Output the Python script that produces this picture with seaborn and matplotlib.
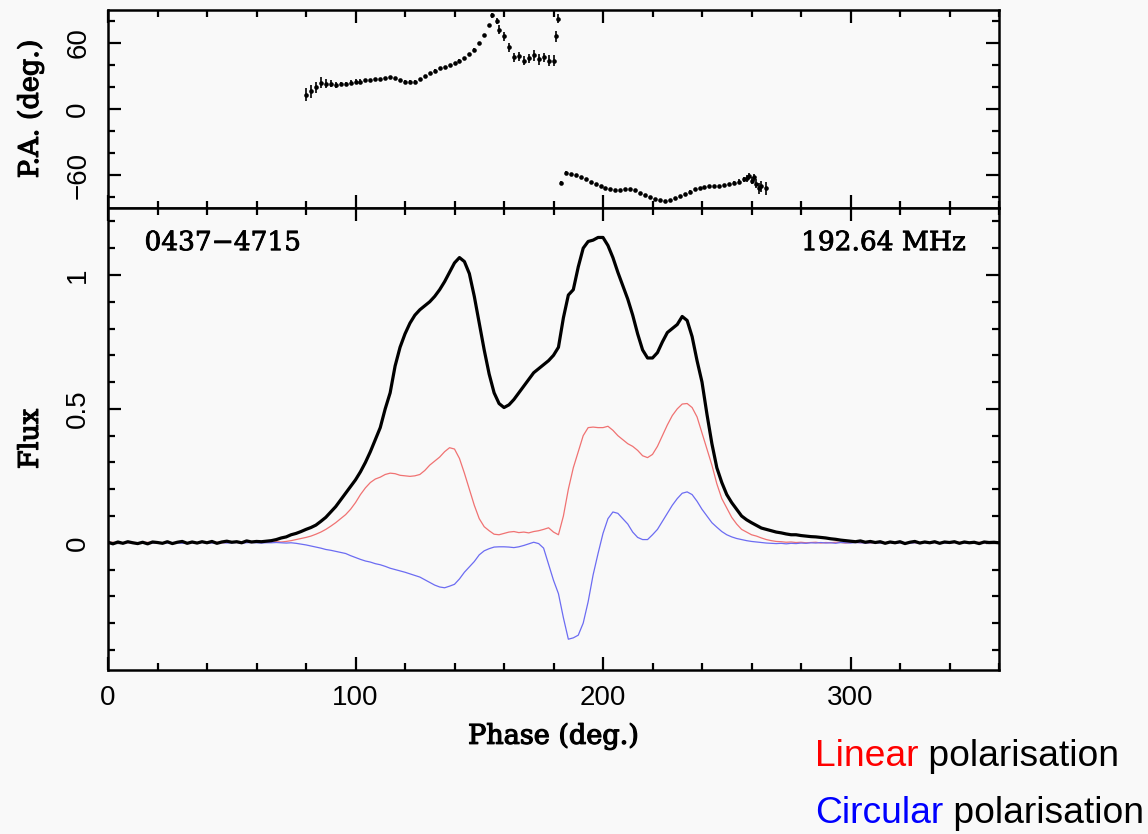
import numpy as np
import pandas as pd
import matplotlib
matplotlib.use("Agg")
import matplotlib.pyplot as plt
import matplotlib.patheffects as pe
import seaborn as sns
from matplotlib.ticker import MultipleLocator

# ---------------- data ----------------
phase = np.arange(0, 361, 2)

total_I = [
    0.002, -0.004, 0.003, -0.002, 0.004, 0.000, -0.003, 0.002, -0.004, 0.003,   # 0-18
    0.001, -0.002, 0.004, -0.003, 0.002, 0.005, -0.002, 0.003, -0.001, 0.004,   # 20-38
    0.000, 0.005, -0.002, 0.003, 0.006, 0.002, 0.004, 0.000, 0.007, 0.003,      # 40-58
    0.005, 0.004, 0.006, 0.008, 0.012, 0.018, 0.022, 0.030, 0.035, 0.042,      # 60-78
    0.050, 0.057, 0.066, 0.080, 0.095, 0.115, 0.135, 0.160, 0.185, 0.210,      # 80-98
    0.235, 0.265, 0.300, 0.340, 0.385, 0.430, 0.500, 0.560, 0.660, 0.730,      # 100-118
    0.780, 0.820, 0.850, 0.870, 0.885, 0.900, 0.920, 0.945, 0.975, 1.010,      # 120-138
    1.045, 1.065, 1.050, 1.005, 0.920, 0.820, 0.720, 0.630, 0.560, 0.520,      # 140-158
    0.505, 0.515, 0.535, 0.560, 0.585, 0.610, 0.635, 0.650, 0.665, 0.680,      # 160-178
    0.700, 0.730, 0.840, 0.925, 0.945, 1.030, 1.100, 1.125, 1.130, 1.140,      # 180-198
    1.140, 1.110, 1.065, 1.010, 0.960, 0.910, 0.850, 0.780, 0.720, 0.690,      # 200-218
    0.690, 0.710, 0.750, 0.785, 0.800, 0.815, 0.845, 0.830, 0.770, 0.680,      # 220-238
    0.600, 0.480, 0.370, 0.280, 0.225, 0.180, 0.150, 0.125, 0.100, 0.086,      # 240-258
    0.075, 0.065, 0.055, 0.050, 0.045, 0.040, 0.037, 0.033, 0.030, 0.030,      # 260-278
    0.027, 0.025, 0.023, 0.022, 0.020, 0.018, 0.015, 0.013, 0.010, 0.008,      # 280-298
    0.006, 0.004, 0.007, 0.002, 0.005, 0.001, 0.004, -0.002, 0.003, 0.000,     # 300-318
    0.004, -0.003, 0.002, 0.005, -0.001, 0.003, 0.000, 0.004, -0.002, 0.003,   # 320-338
    0.001, 0.004, -0.002, 0.003, 0.000, 0.002, -0.003, 0.003, 0.001, 0.002,    # 340-358
    0.000,                                                                      # 360
]

linear_L = [
    0.000, 0.002, -0.001, 0.001, 0.000, 0.002, -0.001, 0.001, 0.002, 0.000,
    0.001, -0.001, 0.002, 0.000, 0.001, 0.002, 0.000, 0.001, -0.001, 0.002,
    0.000, 0.001, 0.002, 0.000, 0.001, 0.002, 0.001, 0.000, 0.002, 0.001,
    0.002, 0.001, 0.003, 0.002, 0.004, 0.003, 0.005, 0.008, 0.012, 0.016,
    0.020, 0.025, 0.032, 0.040, 0.050, 0.062, 0.075, 0.090, 0.105, 0.125,
    0.150, 0.180, 0.205, 0.225, 0.238, 0.245, 0.255, 0.260, 0.258, 0.252,
    0.250, 0.248, 0.250, 0.255, 0.270, 0.290, 0.305, 0.320, 0.340, 0.355,
    0.350, 0.315, 0.260, 0.200, 0.140, 0.090, 0.060, 0.045, 0.032, 0.030,
    0.035, 0.040, 0.042, 0.038, 0.040, 0.037, 0.042, 0.045, 0.050, 0.056,
    0.040, 0.030, 0.100, 0.200, 0.280, 0.340, 0.400, 0.430, 0.432, 0.430,
    0.430, 0.435, 0.420, 0.400, 0.385, 0.370, 0.360, 0.345, 0.325, 0.318,
    0.330, 0.360, 0.400, 0.440, 0.475, 0.500, 0.518, 0.520, 0.505, 0.470,
    0.410, 0.350, 0.290, 0.220, 0.165, 0.130, 0.095, 0.070, 0.050, 0.040,
    0.030, 0.025, 0.018, 0.012, 0.008, 0.005, 0.004, 0.002, 0.003, 0.001,
    0.002, 0.000, 0.001, 0.002, -0.001, 0.001, 0.000, 0.002, 0.001, -0.001,
    0.001, 0.002, 0.000, 0.001, -0.001, 0.002, 0.000, 0.001, 0.002, 0.000,
    0.001, -0.001, 0.002, 0.000, 0.001, 0.002, 0.000, 0.001, -0.001, 0.001,
    0.000, 0.001, 0.002, 0.000, 0.001, -0.001, 0.002, 0.000, 0.001, 0.000,
    0.000,
]

circular_V = [
    0.000, -0.002, 0.001, -0.001, 0.001, 0.000, -0.002, 0.001, 0.000, -0.001,
    0.001, 0.000, -0.001, 0.001, 0.000, -0.002, 0.001, 0.000, -0.001, 0.001,
    0.000, -0.001, 0.000, 0.001, -0.001, 0.000, 0.001, -0.001, 0.000, 0.001,
    0.000, -0.001, 0.000, 0.000, 0.001, 0.000, -0.001, 0.000, -0.002, -0.005,
    -0.008, -0.012, -0.016, -0.020, -0.025, -0.028, -0.032, -0.036, -0.040, -0.048,
    -0.055, -0.062, -0.068, -0.072, -0.078, -0.082, -0.088, -0.095, -0.100, -0.105,
    -0.110, -0.116, -0.122, -0.128, -0.138, -0.148, -0.158, -0.165, -0.168, -0.162,
    -0.155, -0.135, -0.110, -0.090, -0.070, -0.045, -0.030, -0.022, -0.016, -0.015,
    -0.015, -0.016, -0.018, -0.015, -0.010, -0.004, 0.002, -0.003, -0.020, -0.080,
    -0.140, -0.190, -0.280, -0.360, -0.355, -0.345, -0.300, -0.220, -0.120, -0.040,
    0.035, 0.090, 0.115, 0.110, 0.090, 0.070, 0.040, 0.020, 0.012, 0.012,
    0.030, 0.050, 0.080, 0.110, 0.140, 0.165, 0.185, 0.190, 0.180, 0.155,
    0.125, 0.100, 0.075, 0.058, 0.042, 0.030, 0.022, 0.016, 0.012, 0.008,
    0.005, 0.003, 0.001, -0.001, -0.002, -0.003, -0.002, -0.004, -0.002, -0.003,
    -0.001, -0.002, 0.000, -0.001, 0.001, -0.001, 0.000, -0.002, 0.001, 0.000,
    -0.001, 0.001, 0.000, -0.001, 0.000, 0.001, -0.001, 0.000, 0.001, -0.001,
    0.000, 0.001, -0.001, 0.000, 0.001, 0.000, -0.001, 0.001, 0.000, -0.001,
    0.000, 0.001, 0.000, -0.001, 0.001, 0.000, -0.001, 0.000, 0.001, 0.000,
    0.000,
]

pa_phase = [80, 82, 84, 86, 88, 90, 92, 94, 96, 98, 100, 102, 104, 106, 108, 110,
            112, 114, 116, 118, 120, 122, 124, 126, 128, 130, 132, 134, 136, 138,
            140, 142, 144, 146, 148, 150, 152, 154, 155, 157, 158, 160, 162, 164,
            166, 168, 170, 172, 174, 176, 178, 180, 181, 182,
            183, 185, 187, 189, 191, 193, 195, 197, 199, 201, 203, 205, 207, 209,
            211, 213, 215, 217, 219, 221, 223, 225, 227, 229, 231, 233, 235, 237,
            239, 241, 243, 245, 247, 249, 251, 253, 255, 257, 258, 259, 260, 261,
            262, 263, 264, 266]
pa_value = [13, 16, 20, 24, 23, 23, 22, 23, 23, 24, 25, 25, 26, 26, 27, 27,
            28, 29, 28, 26, 25, 25, 25, 27, 30, 33, 35, 37, 38, 40,
            42, 44, 46, 50, 54, 60, 67, 76, 85, 80, 72, 66, 56, 47,
            48, 44, 46, 49, 45, 47, 44, 44, 66, 82,
            -67, -58, -59, -60, -62, -64, -66, -68, -70, -72, -73, -74, -74, -73,
            -73, -74, -76, -78, -80, -82, -83, -84, -83, -81, -79, -77, -75, -73,
            -72, -71, -70, -70, -70, -69, -68, -67, -66, -64, -63, -61, -65, -62,
            -68, -72, -70, -72]
pa_error = [6, 6, 5, 5, 4, 3, 3, 2, 2, 2, 2, 2, 1, 1, 1, 1,
            1, 1, 1, 1, 1, 1, 1, 1, 1, 1, 1, 1, 1, 1,
            1, 1, 1, 1, 1, 1, 1, 1, 2, 3, 4, 4, 4, 4,
            4, 4, 4, 5, 5, 4, 5, 5, 5, 4,
            2, 2, 1, 1, 1, 1, 1, 1, 1, 1, 1, 1, 1, 1,
            1, 1, 1, 1, 1, 1, 1, 1, 1, 1, 1, 1, 1, 1,
            1, 1, 1, 1, 1, 1, 1, 2, 2, 2, 3, 3, 3, 3,
            4, 5, 5, 6]

source_name = "0437\u22124715"
frequency_label = "192.64 MHz"

# ---------------- styling ----------------
sns.set_style("ticks")
BG = "#f9f9f9"
plt.rcParams["font.family"] = ["Liberation Sans", "DejaVu Sans"]
plt.rcParams["axes.unicode_minus"] = True
plt.rcParams["text.color"] = "black"
plt.rcParams["axes.labelcolor"] = "black"
plt.rcParams["xtick.color"] = "black"
plt.rcParams["ytick.color"] = "black"

fig = plt.figure(figsize=(11.48, 8.34), dpi=100, facecolor=BG)
L, W = 108 / 1148, 891 / 1148
ax_pa = fig.add_axes([L, 1 - 208 / 834, W, 198 / 834])
ax = fig.add_axes([L, 1 - 670 / 834, W, 462 / 834])

heavy = [pe.withStroke(linewidth=0.9, foreground="black")]
serif = {"family": "DejaVu Serif", "size": 19.5, "color": "black"}

for a in (ax_pa, ax):
    a.set_facecolor(BG)
    for s in a.spines.values():
        s.set_linewidth(1.8)
        s.set_color("black")
    a.set_xlim(0, 360)
    a.xaxis.set_major_locator(MultipleLocator(100))
    a.xaxis.set_minor_locator(MultipleLocator(20))
    a.tick_params(which="both", direction="in", top=True, right=True,
                  colors="black", labelcolor="black", width=1.6, labelsize=20)
    a.tick_params(which="major", length=9.5)
    a.tick_params(which="minor", length=5)
    a.tick_params(axis="y", labelrotation=90, pad=12)
    a.tick_params(axis="x", pad=11)
    a.grid(False)

# ---- top panel: position angle ----
df_pa = pd.DataFrame({"phase": pa_phase, "pa": pa_value, "err": pa_error})
ax_pa.errorbar(df_pa["phase"], df_pa["pa"], yerr=df_pa["err"], fmt="none",
               ecolor="black", elinewidth=1.2, capsize=0)
sns.scatterplot(data=df_pa, x="phase", y="pa", ax=ax_pa, color="black",
                s=11, linewidth=0, legend=False)
ax_pa.set_ylim(-90, 90)
ax_pa.yaxis.set_major_locator(MultipleLocator(60))
ax_pa.yaxis.set_minor_locator(MultipleLocator(20))
ax_pa.tick_params(axis="x", labelbottom=False)
ax_pa.set_xlabel("")
lab = ax_pa.set_ylabel("P.A. (deg.)", fontdict=serif)
lab.set_path_effects(heavy)
ax_pa.yaxis.set_label_coords(-0.072, 0.5)
for t in ax_pa.get_yticklabels():
    t.set_va("center")

# ---- bottom panel: profile ----
df = pd.DataFrame({"phase": phase, "I": total_I, "L": linear_L, "V": circular_V})
sns.lineplot(data=df, x="phase", y="L", ax=ax, color="#f07272", lw=0.9,
             estimator=None, sort=False)
sns.lineplot(data=df, x="phase", y="V", ax=ax, color="#6c6cf2", lw=0.9,
             estimator=None, sort=False)
sns.lineplot(data=df, x="phase", y="I", ax=ax, color="black", lw=2.3,
             estimator=None, sort=False)
ax.set_ylim(-0.475, 1.25)
ax.yaxis.set_major_locator(MultipleLocator(0.5))
ax.yaxis.set_minor_locator(MultipleLocator(0.1))
ax.yaxis.set_major_formatter(plt.FuncFormatter(lambda v, p: f"{v:g}"))
for t in ax.get_yticklabels():
    t.set_va("center")
xl = ax.set_xlabel("Phase (deg.)", fontdict=serif, labelpad=8)
xl.set_path_effects(heavy)
yl = ax.set_ylabel("Flux", fontdict=serif)
yl.set_path_effects(heavy)
ax.yaxis.set_label_coords(-0.072, 0.5)

for txt, xpos, ha in ((source_name, 0.041, "left"), (frequency_label, 0.963, "right")):
    tt = ax.text(xpos, 0.925, txt, transform=ax.transAxes, ha=ha, va="center",
                 fontfamily="DejaVu Serif", fontsize=19, color="black")
    tt.set_path_effects([pe.withStroke(linewidth=0.6, foreground="black")])

# ---- colour key texts ----
t1 = fig.text(815 / 1148, 1 - 766 / 834, "Linear", color="#ff0000", fontsize=26.8,
              va="baseline", ha="left")
ax.annotate(" polarisation", xy=(1, 0), xycoords=t1, va="bottom", ha="left",
            fontsize=26.8, color="black", annotation_clip=False)
t2 = fig.text(815 / 1148, 1 - 823 / 834, "Circular", color="#0000ff", fontsize=26.8,
              va="baseline", ha="left")
ax.annotate(" polarisation", xy=(1, 0), xycoords=t2, va="bottom", ha="left",
            fontsize=26.8, color="black", annotation_clip=False)

fig.savefig("out.png", dpi=100, facecolor=BG)
